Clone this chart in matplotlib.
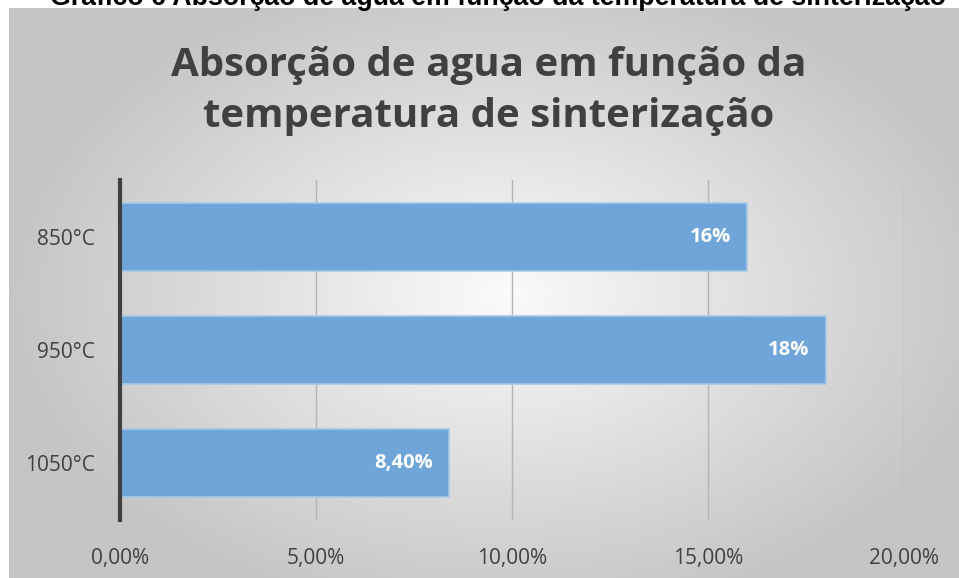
import numpy as np
import matplotlib.pyplot as plt
from matplotlib.ticker import FuncFormatter

categories = ["850°C", "950°C", "1050°C"]
values = [16.0, 18.0, 8.4]
bar_labels = ["16%", "18%", "8,40%"]
xticks = [0, 5, 10, 15, 20]

plt.rcParams['font.family'] = ['Open Sans', 'DejaVu Sans']

W, H = 959, 578
fig = plt.figure(figsize=(W / 100, H / 100), dpi=100)

# gray radial background of the chart area
bg = fig.add_axes([9 / W, 0, 1 - 9 / W, (H - 8) / H])
yy, xx = np.mgrid[0:300, 0:500]
r = np.sqrt(((xx - 260) / 500) ** 2 + ((yy - 150) / 330) ** 2)
shade = np.clip(0.98 - 0.40 * r, 0.77, 0.98)
bg.imshow(shade, cmap='gray', vmin=0, vmax=1, aspect='auto', extent=[0, 1, 0, 1])
bg.axis('off')

# caption above the chart, cut by the top edge like in the source
fig.text(0.519, 1 + 2 / H, "Gráfico 6 Absorção de água em função da temperatura de sinterização",
         ha='center', va='center', fontsize=19.3, fontweight='bold', color='black',
         family='Liberation Sans')

fig.text(0.51, 1 - 91 / H, "Absorção de agua em função da\ntemperatura de sinterização",
         ha='center', va='center', fontsize=29, fontweight='bold', color='#404040',
         linespacing=1.42)

ax = fig.add_axes([120 / W, 1 - 520 / H, 784 / W, 340 / H])
ax.patch.set_alpha(0)
ypos = np.arange(len(categories))
ax.barh(ypos, values, height=0.6, color='#6FA5D8', edgecolor='#A7C8E8', linewidth=1.2, zorder=3)
for y, v, lab in zip(ypos, values, bar_labels):
    ax.annotate(lab, (v, y), xytext=(-12, 0), textcoords='offset points',
                ha='right', va='center', color='white', fontsize=14.5, fontweight='bold', zorder=4)

ax.set_xlim(0, 20)
ax.set_ylim(2.5, -0.5)
ax.set_yticks(ypos)
ax.set_yticklabels(categories)
ax.set_xticks(xticks)
ax.xaxis.set_major_formatter(FuncFormatter(lambda v, p: f"{v:.2f}".replace('.', ',') + "%"))
ax.tick_params(axis='both', length=0, colors='#404040', labelsize=15)
ax.tick_params(axis='y', pad=18)
ax.tick_params(axis='x', pad=20)
ax.grid(axis='x', color='#b4b4b4', linewidth=1, zorder=1)
for s in ['top', 'right', 'bottom']:
    ax.spines[s].set_visible(False)
ax.spines['left'].set_color('#404040')
ax.spines['left'].set_linewidth(3)
ax.spines['left'].set_zorder(5)

fig.savefig('out.png', dpi=100)
